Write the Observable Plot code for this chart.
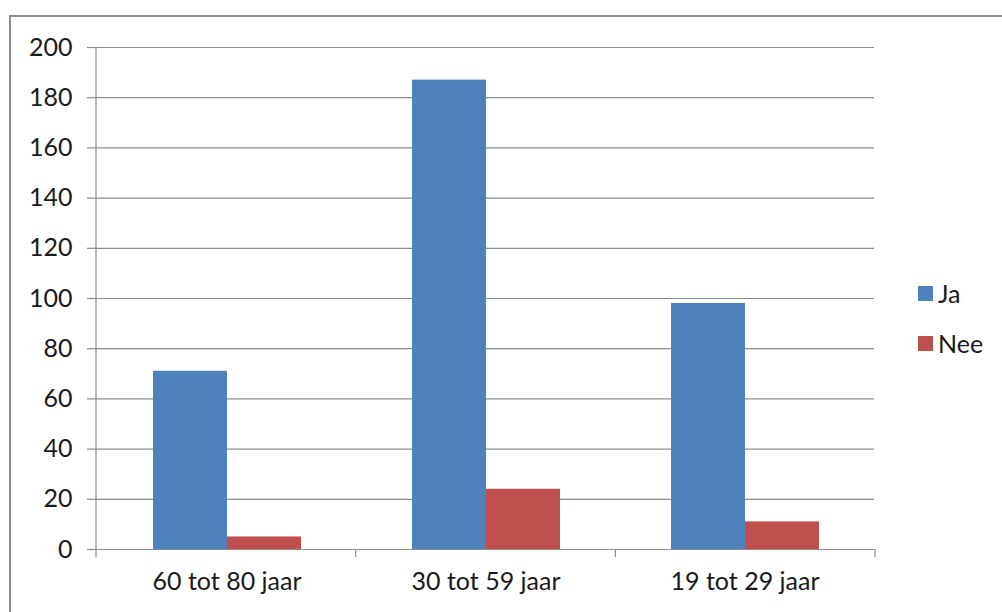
<!DOCTYPE html>
<html>
<head>
<meta charset="utf-8">
<script src="https://cdn.jsdelivr.net/npm/d3@7"></script>
<script src="https://cdn.jsdelivr.net/npm/@observablehq/plot@0.6"></script>
<style>
  html, body { margin: 0; padding: 0; background: #fff; overflow: hidden; width: 1002px; height: 612px; }
  #wrap { position: relative; width: 1002px; height: 612px; }
  #frame { position: absolute; left: 9px; top: 15px; width: 1100px; height: 700px; border-left: 2px solid #8e8e8e; border-top: 2px solid #8e8e8e; }
  #chart { position: absolute; left: 0; top: 0; }
  #legend { position: absolute; left: 918px; top: 278px; font-family: Lato, "Open Sans", sans-serif; font-size: 25px; color: #1a1a1a; }
  .item { display: flex; align-items: center; height: 30px; margin-bottom: 20px; }
  .sw { width: 15px; height: 15px; margin-right: 5px; }
</style>
</head>
<body>
<div id="wrap">
  <div id="frame"></div>
  <div id="chart"></div>
  <div id="legend"></div>
</div>
<script>
const categories = ["60 tot 80 jaar", "30 tot 59 jaar", "19 tot 29 jaar"];
const series = ["Ja", "Nee"];
const jaValues = [71, 187, 98];
const neeValues = [5, 24, 11];
const yTicks = [0, 20, 40, 60, 80, 100, 120, 140, 160, 180, 200];
const colors = ["#4F81BD", "#C0504D"];

const data = [];
categories.forEach((c, i) => {
  data.push({category: c, series: "Ja", value: jaValues[i]});
  data.push({category: c, series: "Nee", value: neeValues[i]});
});

const gridColor = "#8c8c8c";

const plot = Plot.plot({
  width: 1002,
  height: 612,
  marginLeft: 96,
  marginRight: 127,
  marginTop: 47,
  marginBottom: 63,
  style: {fontFamily: "Lato, 'Open Sans', sans-serif", fontSize: "25px", color: "#1a1a1a", background: "transparent"},
  fx: {domain: categories, padding: 0, label: null},
  x: {domain: series, paddingInner: 0, paddingOuter: 0.74, axis: null},
  y: {domain: [0, 200], label: null},
  color: {domain: series, range: colors},
  marks: [
    Plot.gridY(yTicks, {stroke: gridColor, strokeOpacity: 1, strokeWidth: 1.2}),
    Plot.axisY(yTicks, {tickSize: 10, tickPadding: 15, stroke: gridColor, strokeWidth: 1.2, label: null, fill: "#1a1a1a"}),
    Plot.barY(data, {fx: "category", x: "series", y: "value", fill: "series"}),
    Plot.ruleY([0], {stroke: gridColor, strokeWidth: 1.2}),
    Plot.axisFx({anchor: "bottom", tickSize: 0, tickPadding: 23, label: null, fill: "#1a1a1a"})
  ]
});
document.getElementById("chart").appendChild(plot);

// axis line and category boundary ticks via the plot's own scales
const fxS = plot.scale("fx");
const yS = plot.scale("y");
const band = d3.scaleBand().domain(fxS.domain).range(fxS.range).paddingInner(0).paddingOuter(0);
const edges = fxS.domain.map(d => band(d)).concat([band(fxS.domain[fxS.domain.length - 1]) + band.bandwidth()]);
const svg = d3.select(plot);
const y0 = yS.apply(0), yTop = yS.apply(200);
const g = svg.append("g").attr("stroke", gridColor).attr("stroke-width", 1.2);
g.append("line").attr("x1", edges[0]).attr("x2", edges[0]).attr("y1", yTop).attr("y2", y0);
edges.forEach(x => g.append("line").attr("x1", x).attr("x2", x).attr("y1", y0).attr("y2", y0 + 8));

// legend
const leg = d3.select("#legend");
series.forEach((s, i) => {
  const it = leg.append("div").attr("class", "item");
  it.append("div").attr("class", "sw").style("background", colors[i]);
  it.append("span").text(s);
});
</script>
</body>
</html>
